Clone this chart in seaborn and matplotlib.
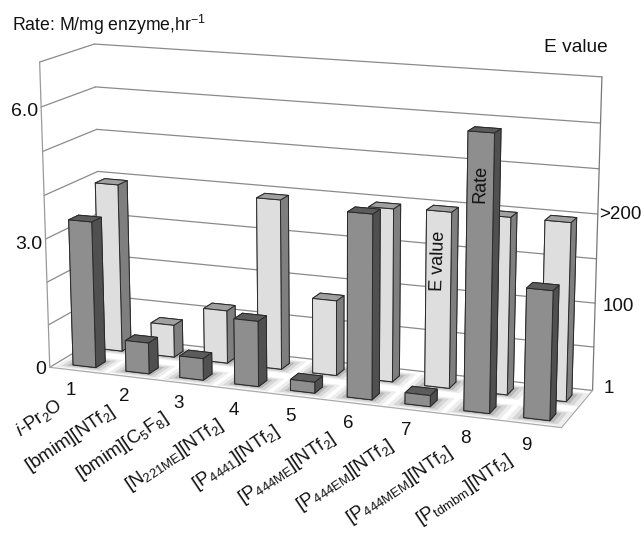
import numpy as np
import matplotlib
matplotlib.use("Agg")
import matplotlib.pyplot as plt
import seaborn as sns
from mpl_toolkits.mplot3d.art3d import Poly3DCollection

# ---- data ----
numbers = ["1", "2", "3", "4", "5", "6", "7", "8", "9"]
solvents = ["$\\mathit{i}$-Pr$_2$O", "[bmim][NTf$_2$]", "[bmim][C$_5$F$_8$]",
            "[N$_{221ME}$][NTf$_2$]", "[P$_{4441}$][NTf$_2$]", "[P$_{444ME}$][NTf$_2$]",
            "[P$_{444EM}$][NTf$_2$]", "[P$_{444MEM}$][NTf$_2$]", "[P$_{tdmbm}$][NTf$_2$]"]
rate = [3.4, 0.72, 0.5, 1.5, 0.25, 4.15, 0.25, 6.1, 2.85]
e_value = [198, 38, 62, 197, 87, 198, 200, 200, 200]
rate_ticks = [0, 3.0, 6.0]
rate_tick_labels = ["0", "3.0", "6.0"]
e_ticks = [1, 100, 200]
e_tick_labels = ["1", "100", ">200"]

E_PER_UNIT = 50.0
ZMAX = 7
N = len(rate)

sns.set_theme(style="white")
plt.rcParams["font.family"] = ["Liberation Sans", "DejaVu Sans"]
plt.rcParams["mathtext.fontset"] = "custom"
plt.rcParams["mathtext.rm"] = "Liberation Sans"
plt.rcParams["mathtext.it"] = "Liberation Sans:italic"
plt.rcParams["mathtext.bf"] = "Liberation Sans:bold"
plt.rcParams["mathtext.default"] = "regular"

W, H = 644, 533
fig = plt.figure(figsize=(W / 100, H / 100), dpi=100, facecolor="white")
ax = fig.add_axes([0, 0, 1, 1], projection="3d", computed_zorder=False)
ax.set_xticks([])
ax.set_yticks([])
ax.set_zticks([])
ax.set_axis_off()

# ---- camera: fitted to the corners of the chart box ----
world = np.array([[0, 0, 0], [N, 0, 0], [0, 1, 0], [N, 1, 0],
                  [0, 0, ZMAX], [0, 1, ZMAX], [N, 1, ZMAX]], float)
pixel = np.array([[48, 365], [562, 429], [104, 338], [592, 389],
                  [41, 63], [93, 43], [602, 77]], float)
rows = []
for (X, Y, Z), (u, v) in zip(world, pixel):
    rows.append([X, Y, Z, 1, 0, 0, 0, 0, -u * X, -u * Y, -u * Z, -u])
    rows.append([0, 0, 0, 0, X, Y, Z, 1, -v * X, -v * Y, -v * Z, -v])
P = np.linalg.svd(np.array(rows))[2][-1].reshape(3, 4)
P = P / (P[2] @ np.array([N / 2, 0.5, ZMAX / 2, 1]))


def get_proj():
    flip = np.array([[1, 0, 0], [0, -1, H], [0, 0, 1]], float)
    A = ax.transData.inverted().get_matrix() @ flip @ P
    return np.vstack([A[0], A[1], [0, 0, 0, -1], A[2]])


ax.get_proj = get_proj


def label(x, y, z, s, **kw):
    """Flat text placed at the screen position of a point of the 3D chart."""
    q = P @ np.array([x, y, z, 1.0])
    u, v = q[:2] / q[2]
    kw.setdefault("color", "#111111")
    fig.text(u / W, 1 - v / H, s, **kw)


def line(xs, ys, zs, color="#8a8a8a", lw=0.9, zorder=1):
    ax.plot(xs, ys, zs, color=color, lw=lw, zorder=zorder, clip_on=False)


# walls
for z in range(ZMAX + 1):
    line([0, 0], [0, 1], [z, z])
    line([0, N], [1, 1], [z, z])
line([0, 0], [0, 0], [0, ZMAX], color="#9a9a9a")
line([N, N], [1, 1], [0, ZMAX], color="#777777")
line([0, N], [0, 0], [0, 0], color="#aaaaaa")
line([N, N], [0, 1], [0, 0], color="#aaaaaa")

BAR_X, BAR_W, BAR_D = 0.31, 0.43, 0.18
FRONT_Y, BACK_Y = 0.13, 0.64


def shadow(x0, y0, z=2):
    for grow, c in zip((0.24, 0.16, 0.08), ("#ededed", "#d6d6d6", "#b8b8b8")):
        gy = grow * 0.4
        quad = [[(x0 - grow, y0 - gy, 0), (x0 + BAR_W + grow, y0 - gy, 0),
                 (x0 + BAR_W + grow, y0 + BAR_D + gy, 0), (x0 - grow, y0 + BAR_D + gy, 0)]]
        p = Poly3DCollection(quad, facecolors=c, edgecolors="none", zorder=z)
        p.set_clip_on(False)
        ax.add_collection3d(p, autolim=False)


def bar(x0, y0, h, faces, zorder):
    b = ax.bar3d(x0, y0, 0, BAR_W, BAR_D, h, color=faces, shade=False,
                 edgecolor="#2a2a2a", linewidth=0.7, zorder=zorder)
    b.set_clip_on(False)


# order of faces: bottom, top, front, back, left, right
light_faces = ["#777777", "#a0a0a0", "#dedede", "#777777", "#777777", "#7f7f7f"]
dark_faces = ["#444444", "#5c5c5c", "#8e8e8e", "#444444", "#444444", "#505050"]

for i in range(N):
    shadow(i + BAR_X, BACK_Y)
    shadow(i + BAR_X, FRONT_Y)
for i in range(N):
    bar(i + BAR_X, BACK_Y, e_value[i] / E_PER_UNIT, light_faces, 10 + i)
for i in range(N):
    bar(i + BAR_X, FRONT_Y, rate[i], dark_faces, 30 + i)

# text on the bars
label(7 + BAR_X + BAR_W / 2, FRONT_Y, rate[7] * 0.82, "Rate", rotation=88, fontsize=13,
      ha="center", va="center", rotation_mode="anchor")
label(6 + BAR_X + BAR_W / 2, BACK_Y, e_value[6] / E_PER_UNIT * 0.72, "E value", rotation=88,
      fontsize=13, ha="center", va="center", rotation_mode="anchor")

# axis labels
for v, s in zip(rate_ticks, rate_tick_labels):
    label(0, -0.06, v - (0.08 if v else 0), s, ha="right", va="center", fontsize=14)
for v, s, off, nudge in zip(e_ticks, e_tick_labels, (0.18, 0.12, 0.03), (0.08, -0.06, 0.0)):
    label(N + off, 1, (v / E_PER_UNIT if v > 1 else 0) + nudge, s, ha="left", va="center",
          fontsize=13.5)
for i, s in enumerate(numbers):
    label(0.91 + 0.975 * i, -0.5, 0, s, ha="center", va="center", fontsize=13.5)
for i, s in enumerate(solvents):
    label(0.78 + 0.96 * i, -0.65, 0, s, rotation=34, ha="right", va="top",
          rotation_mode="anchor", fontsize=13.4)

fig.text(12 / W, 1 - 25 / H, "Rate: M/mg enzyme,hr$^{-1}$", fontsize=12.7, color="#111111",
         ha="left", va="center")
fig.text(544 / W, 1 - 48 / H, "E value", fontsize=13.8, color="#111111", ha="left", va="center")

fig.savefig("out.png", dpi=100)
